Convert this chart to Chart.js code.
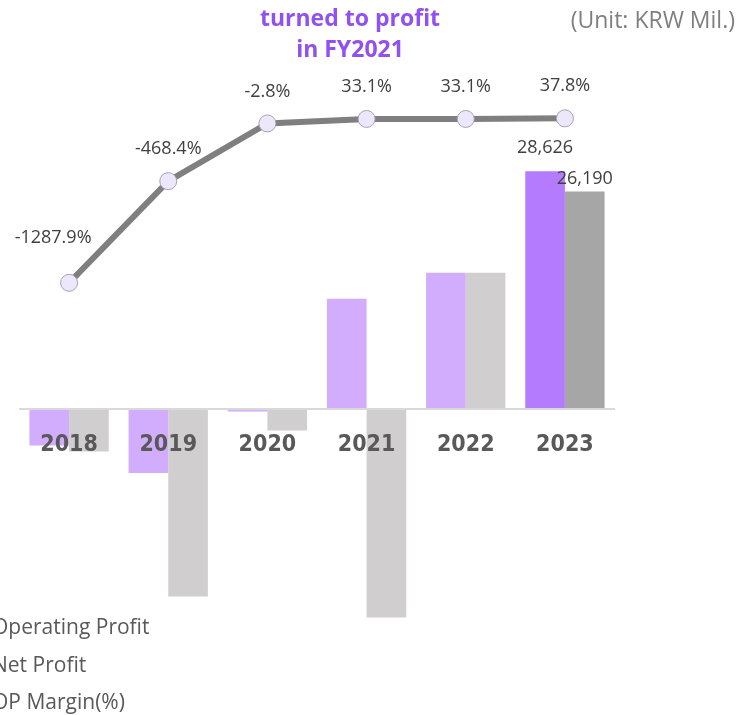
<!DOCTYPE html>
<html>
<head>
<meta charset="utf-8">
<script src="https://cdn.jsdelivr.net/npm/chart.js@4.4.0/dist/chart.umd.min.js"></script>
<style>
  body { margin: 0; background: #fff; overflow: hidden; }
  #wrap { position: relative; width: 739px; height: 715px; }
  #chart { position: absolute; left: 0; top: 0; }
  .title { position: absolute; left: 230px; width: 240px; text-align: center;
           font: bold 23px "Open Sans", sans-serif; color: #9150f0; line-height: 31px; top: 2px; }
  .unit { position: absolute; right: 4px; top: 3px; font: 23px "Open Sans", sans-serif; color: #7f7f7f; }
  #legend { position: absolute; left: -8px; top: 609px; font: 21px "Open Sans", sans-serif; color: #595959; }
  #legend div { height: 37.5px; line-height: 34px; white-space: nowrap; }
</style>
</head>
<body>
<div id="wrap">
  <canvas id="chart" width="739" height="715"></canvas>
  <div class="title">turned to profit<br>in FY2021</div>
  <div class="unit">(Unit: KRW Mil.)</div>
  <div id="legend"></div>
</div>
<script>
// ─── Data (KRW Mil.) ─────────────────────────────────────────────────────────
const years           = ['2018', '2019', '2020', '2021', '2022', '2023'];
const operatingProfit = [-4426, -7755, -326, 13266, 16402, 28626];
const netProfit       = [-5150, -22637, -2617, -25169, 16402, 26190];
const opMargin        = [-1287.9, -468.4, -2.8, 33.1, 33.1, 37.8];
const seriesNames     = ['Operating Profit', 'Net Profit', 'OP Margin(%)'];

// last year is highlighted
const last = years.length - 1;
const opColors = years.map((_, i) => i === last ? '#b57bff' : '#d2acfd');
const npColors = years.map((_, i) => i === last ? '#a6a6a6' : '#d0cece');

document.getElementById('legend').innerHTML =
  seriesNames.map(n => `<div>${n}</div>`).join('');

// ─── Value labels ────────────────────────────────────────────────────────────
const valueLabels = {
  id: 'valueLabels',
  afterDatasetsDraw(chart) {
    const ctx = chart.ctx;
    ctx.save();
    ctx.font = '18px "Open Sans", sans-serif';
    ctx.fillStyle = '#404040';
    ctx.textAlign = 'center';
    ctx.textBaseline = 'middle';
    chart.data.datasets.forEach((ds, i) => {
      chart.getDatasetMeta(i).data.forEach((el, j) => {
        if (ds.type === 'bar' && j !== last) return;
        const v = ds.data[j];
        const text = ds.type === 'line' ? v.toFixed(1) + '%' : v.toLocaleString('en-US');
        let dx = 0, dy = ds.labelDy;
        if (ds.type === 'line' && j === 0) { dx = -16; dy = -45; }
        ctx.fillText(text, el.x + dx, el.y + dy);
      });
    });
    ctx.restore();
  }
};

// ─── Chart ───────────────────────────────────────────────────────────────────
new Chart(document.getElementById('chart'), {
  type: 'bar',
  data: {
    labels: years,
    datasets: [
      { type: 'line', label: seriesNames[2], data: opMargin, yAxisID: 'y1', order: 0,
        borderColor: '#7f7f7f', borderWidth: 6, pointRadius: 8.5, pointBorderWidth: 1,
        pointBackgroundColor: '#ede7fb', pointBorderColor: '#a8a1b3', labelDy: -32 },
      { type: 'bar', label: seriesNames[0], data: operatingProfit, yAxisID: 'y', order: 1,
        backgroundColor: opColors, categoryPercentage: 0.8, barPercentage: 1, labelDy: -23 },
      { type: 'bar', label: seriesNames[1], data: netProfit, yAxisID: 'y', order: 1,
        backgroundColor: npColors, categoryPercentage: 0.8, barPercentage: 1, labelDy: -13 },
    ],
  },
  options: {
    responsive: false,
    animation: false,
    layout: { padding: { left: 19.5, right: 124.5, top: 48, bottom: 67 } },
    plugins: { legend: { display: false }, tooltip: { enabled: false } },
    scales: {
      x: {
        position: { y: 0 },
        grid: { display: true, drawOnChartArea: false, drawTicks: false },
        border: { display: true, color: '#d9d9d9', width: 2, z: 1 },
        ticks: { z: 1, padding: 23, color: '#595959',
                 font: { family: '"Liberation Sans Narrow", "DejaVu Sans Condensed", sans-serif', size: 23, weight: 'bold' } },
      },
      y:  { display: false, min: -28860, max: 43500 },
      y1: { display: false, min: -4232, max: 605 },
    },
  },
  plugins: [valueLabels],
});
</script>
</body>
</html>
